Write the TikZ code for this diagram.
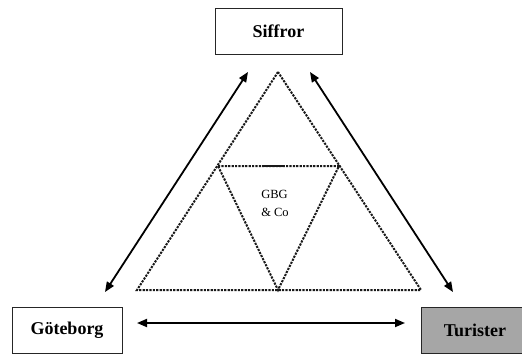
\documentclass[tikz,border=0pt]{standalone}
\usepackage{fontspec}
\setmainfont{Liberation Serif}
\usetikzlibrary{arrows.meta}
\definecolor{boxgray}{RGB}{166,166,166}
\tikzset{
  label box/.style={draw=black!85, line width=1pt, minimum width=#1, minimum height=46pt,
    inner sep=0pt, font=\fontsize{18}{20}\selectfont\bfseries},
  dotline/.style={line width=2pt, dash pattern=on 2.2pt off 1.2pt, black!90},
  twoway/.style={line width=1.8pt, {Triangle[length=10pt,width=8pt]}-{Triangle[length=10pt,width=8pt]}},
}
\begin{document}
\begin{tikzpicture}[x=1pt,y=-1pt]
\clip (0,0) rectangle (522,356);
\fill[white] (0,0) rectangle (522,356);

% the three corner boxes
\node[label box=127pt] (siffror) at (278.5,31.5) {Siffror};
\node[label box=110pt] (goteborg) at (67,330.5) {Göteborg};
\node[label box=108pt, fill=boxgray] (turister) at (475,330.5) {Turister};

% outer dotted triangle and inner inverted triangle
\coordinate (apex) at (278,72);
\coordinate (bl) at (137,290);
\coordinate (br) at (421,290);
\coordinate (ml) at (218,166);
\coordinate (mr) at (339,166);
\coordinate (mb) at (278,290);
\draw[dotline] (apex) -- (bl) -- (br) -- cycle;
\draw[dotline] (ml) -- (mr) -- (mb) -- cycle;
\draw[line width=2pt, black!90] (263,166) -- (283,166);

\node[font=\fontsize{12.5}{18}\selectfont, align=left] (gbg) at (275,203) {GBG\\\& Co};

% two-way relations between the corners
\coordinate (la) at (105,292);
\coordinate (lb) at (248,72);
\coordinate (ra) at (310,72);
\coordinate (rb) at (453,292);
\coordinate (ha) at (137,323);
\coordinate (hb) at (405,323);
\draw[twoway] (la) -- (lb);
\draw[twoway] (ra) -- (rb);
\draw[twoway] (ha) -- (hb);
\end{tikzpicture}
\end{document}
